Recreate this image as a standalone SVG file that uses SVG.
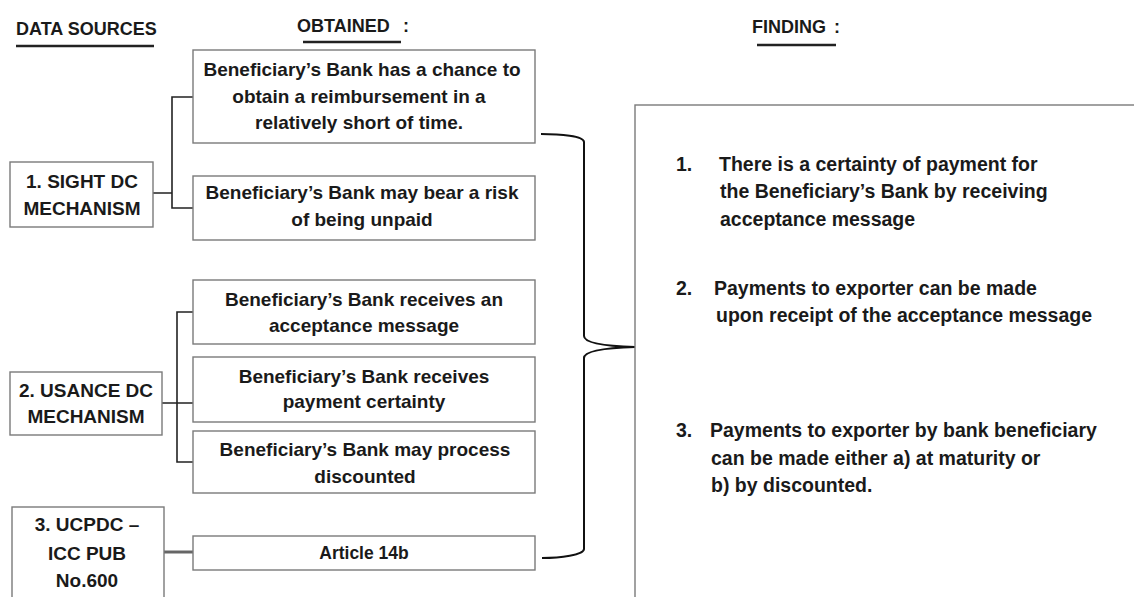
<svg xmlns="http://www.w3.org/2000/svg" width="1134" height="597" viewBox="0 0 1134 597">
<style>
text{font-family:"Liberation Sans",Arial,sans-serif;font-weight:bold;fill:#1a1a1a}
.h{font-size:18px}
.t{font-size:19px;text-anchor:middle}
.f{font-size:19.5px}
.box{fill:#fff;stroke:#7a7a7a;stroke-width:1.4}
.ul{stroke:#222;stroke-width:2.5;fill:none}
.con{stroke:#222;stroke-width:1.6;fill:none}
</style>
<rect width="1134" height="597" fill="#fff"/>
<g id="headers">
<text class="h" x="16" y="35">DATA SOURCES</text>
<path class="ul" d="M16,46 H154"/>
<text class="h" x="297" y="32">OBTAINED</text>
<text class="h" x="403" y="32">:</text>
<path class="ul" d="M303,42 H401"/>
<text class="h" x="752" y="33">FINDING</text>
<text class="h" x="834" y="33">:</text>
<path class="ul" d="M757,45 H836"/>
</g>
<g id="connectors">
<path class="con" d="M153,193 H172 M193,97 H172 V208 H193"/>
<path class="con" d="M162,403 H193 M193,312 H177 V462 H193"/>
<path d="M164,552 H193" stroke="#666" stroke-width="3" fill="none"/>
<path d="M541,134 C560,134 584,136 584,142 V336 C584,342 600,346 635,347 C600,348 584,352 584,358 V549 C584,555 560,558 542,558" stroke="#111" stroke-width="2" fill="none"/>
</g>
<g id="src1">
<rect class="box" x="10" y="162" width="143" height="65"/>
<text class="t" x="82" y="188">1. SIGHT DC</text>
<text class="t" x="82" y="215">MECHANISM</text>
</g>
<g id="src2">
<rect class="box" x="10" y="372" width="152" height="63"/>
<text class="t" x="86" y="397">2. USANCE DC</text>
<text class="t" x="86" y="423">MECHANISM</text>
</g>
<g id="src3">
<rect class="box" x="12" y="507" width="152" height="100"/>
<text class="t" x="87" y="531">3. UCPDC –</text>
<text class="t" x="87" y="560">ICC PUB</text>
<text class="t" x="87" y="587">No.600</text>
</g>
<g id="ob1">
<rect class="box" x="193" y="50" width="342" height="93"/>
<text class="t" x="362" y="76">Beneficiary’s Bank has a chance to</text>
<text class="t" x="359" y="103">obtain a reimbursement in a</text>
<text class="t" x="359" y="129">relatively short of time.</text>
</g>
<g id="ob2">
<rect class="box" x="193" y="176" width="342" height="64"/>
<text class="t" x="362" y="199">Beneficiary’s Bank may bear a risk</text>
<text class="t" x="362" y="226">of being unpaid</text>
</g>
<g id="ob3">
<rect class="box" x="193" y="280" width="342" height="64"/>
<text class="t" x="364" y="306">Beneficiary’s Bank receives an</text>
<text class="t" x="364" y="332">acceptance message</text>
</g>
<g id="ob4">
<rect class="box" x="193" y="357" width="342" height="65"/>
<text class="t" x="364" y="383">Beneficiary’s Bank receives</text>
<text class="t" x="364" y="408">payment certainty</text>
</g>
<g id="ob5">
<rect class="box" x="193" y="431" width="342" height="62"/>
<text class="t" x="365" y="456">Beneficiary’s Bank may process</text>
<text class="t" x="365" y="483">discounted</text>
</g>
<g id="ob6">
<rect class="box" x="193" y="536" width="342" height="34"/>
<text class="t" x="364" y="559" style="font-size:17.5px">Article 14b</text>
</g>
<g id="finding">
<rect class="box" x="635" y="105" width="520" height="520"/>
<text class="f" x="676" y="171">1.</text>
<text class="f" x="719" y="171">There is a certainty of payment for</text>
<text class="f" x="720" y="198">the Beneficiary’s Bank by receiving</text>
<text class="f" x="720" y="226">acceptance message</text>
<text class="f" x="676" y="295">2.</text>
<text class="f" x="714" y="295">Payments to exporter can be made</text>
<text class="f" x="716" y="322">upon receipt of the acceptance message</text>
<text class="f" x="676" y="437">3.</text>
<text class="f" x="710" y="437">Payments to exporter by bank beneficiary</text>
<text class="f" x="711" y="465">can be made either a) at maturity or</text>
<text class="f" x="711" y="492">b) by discounted.</text>
</g>
</svg>
